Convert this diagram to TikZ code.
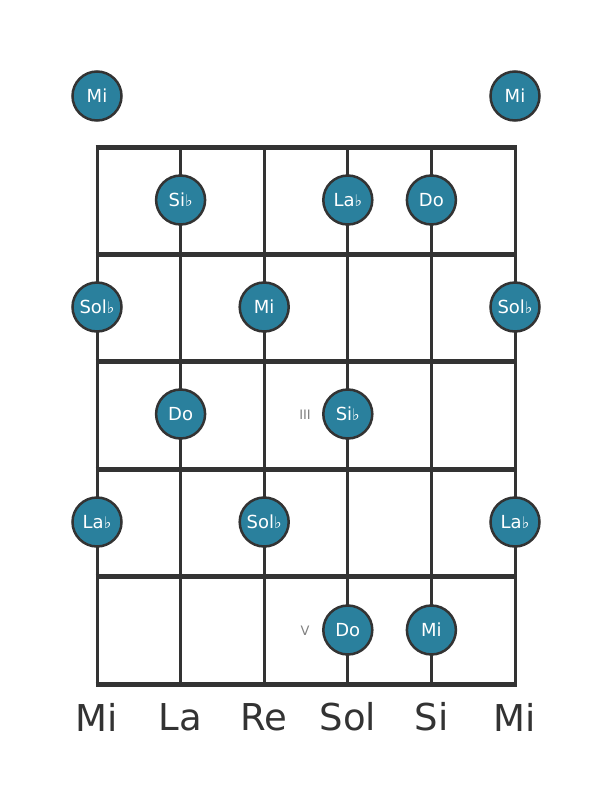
\documentclass[tikz,border=0pt]{standalone}
\usepackage{fontspec}
\setmainfont{DejaVu Sans}
\begin{document}
\begin{tikzpicture}[x=1pt,y=-1pt,
  fretline/.style={line width=5pt,draw=linec},
  strline/.style={line width=3pt,draw=linec},
  note/.style={circle,draw=linec,line width=2.5pt,fill=notec,minimum size=49pt,inner sep=0pt,text=white,font=\fontsize{18}{18}\selectfont},
  strlabel/.style={text=linec,font=\fontsize{37}{37}\selectfont},
  posmark/.style={text=gray,font=\fontsize{13}{13}\selectfont}]
\definecolor{linec}{HTML}{333333}
\definecolor{notec}{HTML}{2A809D}
\useasboundingbox (0,0) rectangle (611,801);
\def\fl{{\fontsize{16}{16}\selectfont ♭}}
% strings
\foreach \i/\x in {1/97,2/180.6,3/264.2,4/347.8,5/431.4,6/515}{
  \coordinate (st\i) at (\x,147);
  \coordinate (sb\i) at (\x,684);
  \draw[strline] (st\i) -- (sb\i);
}
% frets
\foreach \j/\y in {0/147,1/254.4,2/361.8,3/469.2,4/576.6,5/684}{
  \coordinate (fl\j) at (95.5,\y);
  \coordinate (fr\j) at (516.5,\y);
  \draw[fretline] (fl\j) -- (fr\j);
}
% open strings
\node[note] (o1) at (97,96) {Mi};
\node[note] (o6) at (515,96) {Mi};
% fret 1
\node[note] (a2) at (180.6,200) {Si\fl};
\node[note] (a4) at (347.8,200) {La\fl};
\node[note] (a5) at (431.4,200) {Do};
% fret 2
\node[note] (b1) at (97,307) {Sol\fl};
\node[note] (b3) at (264.2,307) {Mi};
\node[note] (b6) at (515,307) {Sol\fl};
% fret 3
\node[note] (c2) at (180.6,414) {Do};
\node[note] (c4) at (347.8,414) {Si\fl};
\node[posmark] (m3) at (305,415) {III};
% fret 4
\node[note] (d1) at (97,522) {La\fl};
\node[note] (d3) at (264.2,522) {Sol\fl};
\node[note] (d6) at (515,522) {La\fl};
% fret 5
\node[note] (e4) at (347.8,630) {Do};
\node[note] (e5) at (431.4,630) {Mi};
\node[posmark] (m5) at (305,631) {V};
% string names
\foreach \i/\x/\t in {1/97/Mi,2/180.6/La,3/264.2/Re,4/347.8/Sol,5/431.4/Si,6/515/Mi}{
  \node[strlabel] (lab\i) at (\x,717) {\t};
}
\end{tikzpicture}
\end{document}
